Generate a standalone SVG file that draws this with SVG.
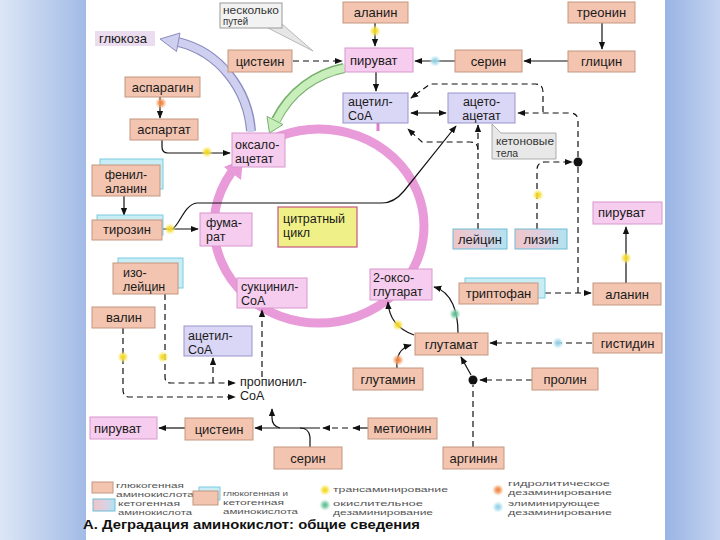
<svg xmlns="http://www.w3.org/2000/svg" width="720" height="540" viewBox="0 0 720 540">
<defs>
<style>
.t{font-family:"Liberation Sans",Arial,sans-serif;font-size:13px;fill:#1a1a1a}
.t2{font-family:"Liberation Sans",Arial,sans-serif;font-size:12.5px;fill:#1a1a1a}
.c{text-anchor:middle}
.s{font-family:"Liberation Sans",Arial,sans-serif;font-size:10px;fill:#333}
.lg{font-family:"Liberation Sans",Arial,sans-serif;font-size:8px;fill:#555}
.ti{font-family:"Liberation Sans",Arial,sans-serif;font-size:13px;font-weight:bold;fill:#111}
.g{fill:#f3c5b1;stroke:#c4957f;stroke-width:1}
.k{fill:url(#kg);stroke:#6fbdd6;stroke-width:1}
.kb{fill:#c8edf5;stroke:#7ccbe2;stroke-width:1}
.p{fill:#f6cdef;stroke:#d896cc;stroke-width:1}
.v{fill:#dad6f6;stroke:#9a93cc;stroke-width:1}
.y{fill:#f0f088;stroke:#c4587e;stroke-width:1.2}
.ln{fill:none;stroke:#111;stroke-width:1.2}
.d{stroke-dasharray:6 4}
.ar{marker-end:url(#ah)}
</style>
<marker id="ah" viewBox="0 0 10 10" refX="9" refY="5" markerWidth="8" markerHeight="8" markerUnits="userSpaceOnUse" orient="auto-start-reverse"><path d="M0,1 L10,5 L0,9 Z" fill="#111"/></marker>
<linearGradient id="kg" x1="0" x2="1" y1="0" y2="0"><stop offset="0" stop-color="#efc5c8"/><stop offset="0.55" stop-color="#dcd0e2"/><stop offset="1" stop-color="#b0e4f0"/></linearGradient>
<linearGradient id="bl" x1="0" x2="1" y1="0" y2="0"><stop offset="0" stop-color="#dce6f6"/><stop offset="1" stop-color="#a2bbe6"/></linearGradient>
<linearGradient id="br" x1="0" x2="1" y1="0" y2="0"><stop offset="0" stop-color="#9ab4e4"/><stop offset="1" stop-color="#c4d4f0"/></linearGradient>
<radialGradient id="gy"><stop offset="0" stop-color="#f0d410"/><stop offset="0.45" stop-color="#f6e048" stop-opacity="0.85"/><stop offset="1" stop-color="#fff4a0" stop-opacity="0"/></radialGradient>
<radialGradient id="go"><stop offset="0" stop-color="#f07a30"/><stop offset="0.45" stop-color="#f49a60" stop-opacity="0.85"/><stop offset="1" stop-color="#f8c8a0" stop-opacity="0"/></radialGradient>
<radialGradient id="gc"><stop offset="0" stop-color="#8ccde4"/><stop offset="0.45" stop-color="#a8dcec" stop-opacity="0.85"/><stop offset="1" stop-color="#d0eef6" stop-opacity="0"/></radialGradient>
<radialGradient id="gg"><stop offset="0" stop-color="#4cb888"/><stop offset="0.45" stop-color="#80cca8" stop-opacity="0.85"/><stop offset="1" stop-color="#c0e8d0" stop-opacity="0"/></radialGradient>
</defs>

<rect x="0" y="0" width="86" height="540" fill="url(#bl)"/>
<rect x="665" y="0" width="55" height="540" fill="url(#br)"/>
<rect x="86" y="0" width="579" height="540" fill="#ffffff"/>

<g id="citrate-ring">
<ellipse cx="319" cy="226" rx="105" ry="97" fill="none" stroke="#e99ad9" stroke-width="9"/>
<polygon points="243,159 241,180 224,167" fill="#e99ad9"/>
<path d="M378,121 L378,131" stroke="#e07ccc" stroke-width="3"/>
</g>

<g id="big-arrows">
<path d="M251,131 C248,90 220,52 178,42" fill="none" stroke="#8c8cc0" stroke-width="10"/>
<path d="M251,132 C248,90 220,52 178,42" fill="none" stroke="#cfd0f0" stroke-width="7.5"/>
<polygon points="160,39 180,33 176.5,51.5" fill="#cfd0f0" stroke="#8c8cc0" stroke-width="1"/>
<path d="M344,68 C315,74 290,92 276,120" fill="none" stroke="#78ae6c" stroke-width="10"/>
<path d="M345,68 C315,74 290,92 276,121" fill="none" stroke="#c8eebc" stroke-width="7.5"/>
<polygon points="269.5,133 283,124.5 267,116.5" fill="#c8eebc" stroke="#78ae6c" stroke-width="1"/>
</g>

<g id="connectors">
<path class="ln ar" d="M375,23 L375,46"/>
<path class="ln d ar" d="M293,61 L342,61"/>
<path class="ln ar" d="M455,61 L415,61"/>
<path class="ln ar" d="M602,23 L602,49"/>
<path class="ln ar" d="M568,61 L524,61"/>
<path class="ln ar" d="M376,72 L376,91"/>
<path class="ln ar" style="marker-start:url(#ah)" d="M411,113 L446,113"/>
<path class="ln d ar" d="M543,112 L543,92 Q543,84 535,84 L430,84 L411,98"/>
<path class="ln d ar" d="M578,157 L578,121 Q578,113 570,113 L518,113"/>
<path class="ln d ar" d="M478,229 L478,125"/>
<path class="ln d ar" d="M478,150 Q478,142 470,142 L422,142 L408,129"/>
<path class="ln ar" d="M162,229 L198,229"/>
<path class="ln ar" d="M172,229 C179,227 184,204 197,203 L382,203 Q394,203 404,191 L456,126"/>
<path class="ln ar" d="M124,196 L124,215"/>
<path class="ln ar" d="M160,97 L160,118"/>
<path class="ln ar" d="M162,140 L162,147 Q162,153 168,153 L230,153"/>
<path class="ln d ar" d="M165,294 L165,377 Q165,383 171,383 L235,383"/>
<path class="ln d ar" d="M123,328 L123,390 Q123,397 130,397 L235,397"/>
<path class="ln d ar" d="M213,383 L213,358"/>
<path class="ln d ar" d="M262,377 L262,310"/>
<path class="ln ar" d="M185,428 L159,428"/>
<path class="ln ar" d="M368,428 L353,428"/>
<path class="ln d ar" d="M348,428 L323,428"/>
<path class="ln ar" d="M320,428 L255,428"/>
<path class="ln" d="M310,447 L310,437 Q309,428 300,428"/>
<path class="ln ar" d="M280,428 Q272,426 272,418 L272,409"/>
<path class="ln d" d="M473,447 L473,385"/>
<path class="ln ar" d="M471,375 L461,357"/>
<path class="ln d ar" d="M532,380 L480,380"/>
<path class="ln d ar" d="M592,343 L490,343"/>
<path class="ln ar" d="M397,368 C396,356 400,348 411,345"/>
<path class="ln ar" d="M458,333 C458,312 452,292 434,287"/>
<path class="ln ar" d="M414,335 C400,330 389,320 388,302"/>
<path class="ln d ar" d="M537,229 L537,170 Q537,162 545,162 L572,162"/>
<path class="ln d ar" d="M545,293 L591,293"/>
<path class="ln d" d="M578,293 L578,167"/>
<path class="ln ar" d="M626,283 L626,227"/>
<circle cx="578" cy="162" r="4.5" fill="#111"/>
<circle cx="473" cy="380" r="4.5" fill="#111"/>
</g>

<g id="reaction-dots">
<circle cx="375" cy="31" r="6" fill="url(#gy)"/>
<circle cx="207" cy="152" r="6" fill="url(#gy)"/>
<circle cx="170" cy="229" r="6" fill="url(#gy)"/>
<circle cx="123" cy="357" r="6" fill="url(#gy)"/>
<circle cx="163" cy="357" r="6" fill="url(#gy)"/>
<circle cx="398" cy="325" r="6" fill="url(#gy)"/>
<circle cx="538" cy="195" r="6" fill="url(#gy)"/>
<circle cx="626" cy="258" r="6" fill="url(#gy)"/>
<circle cx="161" cy="103" r="6" fill="url(#go)"/>
<circle cx="398" cy="360" r="6" fill="url(#go)"/>
<circle cx="435" cy="61" r="6" fill="url(#gc)"/>
<circle cx="558" cy="343" r="6" fill="url(#gc)"/>
<circle cx="455" cy="314" r="6" fill="url(#gg)"/>
</g>

<g id="n-neskolko"><polygon points="268,28 282,24 313,51" fill="#e6e6e6" stroke="#aaa" stroke-width="0.8"/><rect x="220" y="3" width="62" height="25" fill="#f2f2f2" stroke="#9a9a9a"/><text class="s"><tspan x="223" y="13.5" textLength="56" lengthAdjust="spacingAndGlyphs">несколько</tspan><tspan x="223" y="25" textLength="25" lengthAdjust="spacingAndGlyphs">путей</tspan></text></g>
<g id="n-glukoza"><rect x="95" y="31" width="60" height="15" fill="#ebdcf0"/><text class="t" x="99" y="43">глюкоза</text></g>
<g id="n-alanin1"><rect class="g" x="343" y="2" width="65" height="21"/><text class="t c" x="375.5" y="17">аланин</text></g>
<g id="n-treonin"><rect class="g" x="568" y="2" width="67" height="21"/><text class="t c" x="601.5" y="17">треонин</text></g>
<g id="n-cistein1"><rect class="g" x="228" y="50" width="64" height="22"/><text class="t c" x="260" y="66">цистеин</text></g>
<g id="n-piruvat1"><rect class="p" x="345" y="48" width="68" height="24"/><text class="t" x="350" y="65">пируват</text></g>
<g id="n-serin1"><rect class="g" x="455" y="50" width="67" height="22"/><text class="t c" x="488.5" y="66">серин</text></g>
<g id="n-glicin"><rect class="g" x="568" y="51" width="67" height="21"/><text class="t c" x="601.5" y="66">глицин</text></g>
<g id="n-asparagin"><rect class="g" x="125" y="77" width="75" height="20"/><text class="t c" x="162.5" y="92">аспарагин</text></g>
<g id="n-aspartat"><rect class="g" x="130" y="119" width="68" height="21"/><text class="t c" x="164" y="134">аспартат</text></g>
<g id="n-oksaloacetat"><rect class="p" x="232" y="133" width="53" height="34"/><text class="t2"><tspan x="235" y="149">оксало-</tspan><tspan x="235" y="163">ацетат</tspan></text></g>
<g id="n-acetilcoa1"><rect class="v" x="343" y="93" width="65" height="30"/><text class="t2"><tspan x="348" y="106">ацетил-</tspan><tspan x="348" y="120">CoA</tspan></text></g>
<g id="n-acetoacetat"><rect class="v" x="448" y="93" width="67" height="30"/><text class="t2 c"><tspan x="481.5" y="106">ацето-</tspan><tspan x="481.5" y="120">ацетат</tspan></text></g>
<g id="n-ketonovye"><path d="M492,124 L501,133 L556,133 L556,159 L492,159 Z" fill="#e8e8e8" stroke="#999" stroke-width="0.8"/><text class="s" style="font-size:10.5px"><tspan x="496" y="145" textLength="58" lengthAdjust="spacingAndGlyphs">кетоновые</tspan><tspan x="496" y="157">тела</tspan></text></g>
<g id="n-fenilalanin"><rect class="kb" x="100" y="159" width="63" height="30"/><rect class="g" x="92" y="165" width="68" height="31"/><text class="t2 c"><tspan x="126" y="179">фенил-</tspan><tspan x="126" y="193">аланин</tspan></text></g>
<g id="n-tirozin"><rect class="kb" x="97" y="215" width="66" height="20"/><rect class="g" x="92" y="220" width="70" height="20"/><text class="t c" x="127" y="234">тирозин</text></g>
<g id="n-fumarat"><rect class="p" x="200" y="213" width="52" height="33"/><text class="t2"><tspan x="206" y="227">фума-</tspan><tspan x="206" y="241">рат</tspan></text></g>
<g id="n-citrat"><rect class="y" x="278" y="207" width="79" height="40"/><text class="t2"><tspan x="283" y="223">цитратный</tspan><tspan x="283" y="237">цикл</tspan></text></g>
<g id="n-leicin"><rect class="k" x="453" y="229" width="54" height="20"/><text class="t c" x="480" y="244">лейцин</text></g>
<g id="n-lizin"><rect class="k" x="515" y="229" width="52" height="20"/><text class="t c" x="541" y="244">лизин</text></g>
<g id="n-piruvat2"><rect class="p" x="593" y="202" width="69" height="22"/><text class="t" x="598" y="217">пируват</text></g>
<g id="n-izoleicin"><rect class="kb" x="118" y="258" width="65" height="30"/><rect class="g" x="113" y="263" width="65" height="31"/><text class="t2"><tspan x="123" y="277">изо-</tspan><tspan x="123" y="291">лейцин</tspan></text></g>
<g id="n-sukcinilcoa"><rect class="p" x="237" y="278" width="70" height="30"/><text class="t2"><tspan x="241" y="291">сукцинил-</tspan><tspan x="241" y="305">CoA</tspan></text></g>
<g id="n-oksoglutarat"><rect class="p" x="370" y="269" width="62" height="31"/><text class="t2"><tspan x="373" y="282">2-оксо-</tspan><tspan x="373" y="296">глутарат</tspan></text></g>
<g id="n-triptofan"><rect class="kb" x="465" y="278" width="80" height="20"/><rect class="g" x="459" y="283" width="79" height="21"/><text class="t c" x="498.5" y="298">триптофан</text></g>
<g id="n-alanin2"><rect class="g" x="593" y="283" width="68" height="22"/><text class="t c" x="627" y="299">аланин</text></g>
<g id="n-valin"><rect class="g" x="92" y="307" width="63" height="21"/><text class="t c" x="124" y="322">валин</text></g>
<g id="n-acetilcoa2"><rect class="v" x="184" y="326" width="68" height="30"/><text class="t2"><tspan x="188" y="340">ацетил-</tspan><tspan x="188" y="354">CoA</tspan></text></g>
<g id="n-glutamat"><rect class="g" x="415" y="333" width="73" height="22"/><text class="t c" x="451.5" y="349">глутамат</text></g>
<g id="n-gistidin"><rect class="g" x="593" y="333" width="69" height="20"/><text class="t c" x="627.5" y="348">гистидин</text></g>
<g id="n-glutamin"><rect class="g" x="353" y="368" width="70" height="22"/><text class="t c" x="388" y="384">глутамин</text></g>
<g id="n-prolin"><rect class="g" x="532" y="368" width="66" height="22"/><text class="t c" x="565" y="384">пролин</text></g>
<g id="n-propionilcoa"><text class="t2"><tspan x="240" y="386">пропионил-</tspan><tspan x="240" y="400">CoA</tspan></text></g>
<g id="n-piruvat3"><rect class="p" x="90" y="417" width="67" height="22"/><text class="t" x="94" y="433">пируват</text></g>
<g id="n-cistein2"><rect class="g" x="185" y="418" width="68" height="22"/><text class="t c" x="219" y="434">цистеин</text></g>
<g id="n-metionin"><rect class="g" x="368" y="418" width="69" height="21"/><text class="t c" x="402.5" y="433">метионин</text></g>
<g id="n-serin2"><rect class="g" x="274" y="447" width="68" height="22"/><text class="t c" x="308" y="463">серин</text></g>
<g id="n-arginin"><rect class="g" x="443" y="447" width="61" height="22"/><text class="t c" x="473.5" y="463">аргинин</text></g>

<g id="legend">
<rect class="g" x="92" y="482" width="21" height="11"/>
<text class="lg"><tspan x="116" y="488" textLength="68" lengthAdjust="spacingAndGlyphs">глюкогенная</tspan><tspan x="116" y="497" textLength="78" lengthAdjust="spacingAndGlyphs">аминокислота</tspan></text>
<rect class="k" x="93" y="499" width="22" height="12"/>
<text class="lg"><tspan x="118" y="506" textLength="62" lengthAdjust="spacingAndGlyphs">кетогенная</tspan><tspan x="118" y="515" textLength="74" lengthAdjust="spacingAndGlyphs">аминокислота</tspan></text>
<rect class="kb" x="199" y="487" width="21" height="13"/>
<rect class="g" x="193" y="491" width="25" height="14"/>
<text class="lg"><tspan x="223" y="496" textLength="65" lengthAdjust="spacingAndGlyphs">глюкогенная и</tspan><tspan x="223" y="505" textLength="61" lengthAdjust="spacingAndGlyphs">кетогенная</tspan><tspan x="223" y="514" textLength="75" lengthAdjust="spacingAndGlyphs">аминокислота</tspan></text>
<circle cx="325" cy="490" r="6" fill="url(#gy)"/>
<text class="lg" x="333" y="492" textLength="115" lengthAdjust="spacingAndGlyphs">трансаминирование</text>
<circle cx="325" cy="505" r="6" fill="url(#gg)"/>
<text class="lg"><tspan x="333" y="506" textLength="90" lengthAdjust="spacingAndGlyphs">окислительное</tspan><tspan x="333" y="515" textLength="100" lengthAdjust="spacingAndGlyphs">дезаминирование</tspan></text>
<circle cx="498" cy="490" r="6" fill="url(#go)"/>
<text class="lg"><tspan x="508" y="486" textLength="102" lengthAdjust="spacingAndGlyphs">гидролитическое</tspan><tspan x="508" y="495" textLength="104" lengthAdjust="spacingAndGlyphs">дезаминирование</tspan></text>
<circle cx="498" cy="507" r="6" fill="url(#gc)"/>
<text class="lg"><tspan x="508" y="506" textLength="92" lengthAdjust="spacingAndGlyphs">элиминирующее</tspan><tspan x="508" y="515" textLength="104" lengthAdjust="spacingAndGlyphs">дезаминирование</tspan></text>
<text class="ti" x="83" y="529" textLength="337" lengthAdjust="spacingAndGlyphs">А. Деградация аминокислот: общие сведения</text>
</g>
</svg>
